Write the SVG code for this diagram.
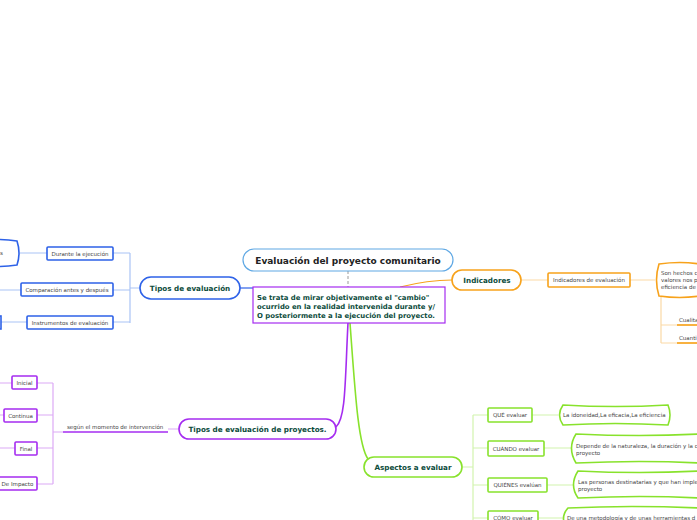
<svg xmlns="http://www.w3.org/2000/svg" width="697" height="520" viewBox="0 0 697 520">
<style>
text{font-family:"DejaVu Sans","Verdana",sans-serif}
.main{font-size:9px;font-weight:bold;fill:#222;text-anchor:middle}
.mid{font-size:7.2px;font-weight:bold;fill:#0b4b3b;text-anchor:middle}
.desc{font-size:6.9px;font-weight:bold;fill:#0b4b3b}
.sm{font-size:5.5px;fill:#444}
.smc{font-size:5.5px;fill:#444;text-anchor:middle}
.bl{fill:#fff;stroke:#2e62e8;stroke-width:1.6}
.pu{fill:#fff;stroke:#a52cf0;stroke-width:1.6}
.or{fill:#fff;stroke:#f7a21b;stroke-width:1.6}
.gr{fill:#fff;stroke:#88e22c;stroke-width:1.6}
.lbl{fill:none;stroke:#aac4f6;stroke-width:1.2}
.lpu{fill:none;stroke:#dcaaf6;stroke-width:1.2}
.lor{fill:none;stroke:#fbd9a6;stroke-width:1.2}
.lgr{fill:none;stroke:#d2f3ae;stroke-width:1.2}
</style>
<rect width="697" height="520" fill="#fff"/>
<g id="connectors">
  <line x1="348" y1="271" x2="348" y2="287" stroke="#999" stroke-width="1" stroke-dasharray="3,2"/>
  <line x1="240" y1="288" x2="253" y2="288" stroke="#2e62e8" stroke-width="1.2"/>
  <path d="M400,287 C420,282 435,280 452,280" fill="none" stroke="#f7a21b" stroke-width="1.2"/>
  <path d="M348,323 C345,380 346,418 336,427" fill="none" stroke="#a52cf0" stroke-width="1.6"/>
  <path d="M350,323 C355,390 358,445 368,459" fill="none" stroke="#88e22c" stroke-width="1.6"/>
  <path class="lbl" d="M140,288 H130 M130,253 V323 M113,253 H130 M113,290 H130 M113,322 H130 M47,253 H20 M21,290 H0 M27,322 H1"/>
  <path class="lpu" d="M179,429 H168 M63,432 H53 M53,383 V484 M37,383 H53 M37,415 H53 M37,448 H53 M37,484 H53 M12,383 H0 M4,415 H0 M15,448 H0"/>
  <line x1="63" y1="432" x2="168" y2="432" stroke="#a52cf0" stroke-width="1.6"/>
  <path class="lor" d="M521,280 H548 M630,280 H655 M661,297 V343 M661,325 H697 M661,343 H697"/>
  <line x1="677" y1="325" x2="697" y2="325" stroke="#f7a21b" stroke-width="1.6"/>
  <line x1="677" y1="343" x2="697" y2="343" stroke="#f7a21b" stroke-width="1.6"/>
  <path class="lgr" d="M462,467 H473 M473,415 V520 M473,415 H488 M473,448 H488 M473,485 H488 M473,518 H488 M532,415 H558 M544,448 H571 M547,485 H573 M538,518 H563"/>
</g>
<g id="title">
  <rect x="243" y="249" width="210" height="22" rx="11" fill="#fff" stroke="#5fa8e4" stroke-width="1.2"/>
  <text class="main" x="348" y="263.5">Evaluación del proyecto comunitario</text>
</g>
<g id="descripcion">
  <rect x="253" y="287" width="192" height="36" fill="#fff" stroke="#a52cf0" stroke-width="1.2"/>
  <text class="desc" x="257" y="299.5">Se trata de mirar objetivamente el "cambio"</text>
  <text class="desc" x="257" y="308.5">ocurrido en la realidad intervenida durante y/</text>
  <text class="desc" x="257" y="317.5">O posteriormente a la ejecución del proyecto.</text>
</g>
<g id="tipos-evaluacion">
  <rect x="140" y="277" width="100" height="22" rx="11" class="bl" stroke-width="1.2"/>
  <text class="mid" x="190" y="291">Tipos de evaluación</text>
</g>
<g id="durante">
  <rect x="47" y="247" width="66" height="13" rx="1" class="bl"/>
  <text class="smc" x="80" y="255.5">Durante la ejecución</text>
</g>
<g id="durante-hijo">
  <path d="M-20,241 Q0,238 17,241 Q21,253 17,265 Q0,268 -20,265 Z" class="bl" stroke-width="1.2"/>
  <text class="sm" x="0" y="254.5">s</text>
</g>
<g id="comparacion">
  <rect x="21" y="283" width="92" height="13" rx="1" class="bl"/>
  <text class="smc" x="67" y="291.5">Comparación antes y después</text>
</g>
<g id="instrumentos">
  <rect x="27" y="316" width="86" height="13" rx="1" class="bl"/>
  <text class="smc" x="70" y="324.5">Instrumentos de evaluación</text>
</g>
<g id="instrumentos-hijo">
  <rect x="-40" y="316" width="41" height="13" class="bl"/>
</g>
<g id="indicadores">
  <rect x="452" y="270" width="69" height="20" rx="10" class="or" stroke-width="1.2"/>
  <text class="mid" x="487" y="283">Indicadores</text>
</g>
<g id="indicadores-evaluacion">
  <rect x="548" y="273" width="82" height="14" rx="1" class="or"/>
  <text class="smc" x="589" y="282">Indicadores de evaluación</text>
</g>
<g id="son-hechos">
  <path d="M659,264 Q680,261 700,264 L700,296 Q680,299 659,296 Q654,280 659,264 Z" class="or" stroke-width="1.2"/>
  <text class="sm" x="661" y="274.5">Son hechos c</text>
  <text class="sm" x="661" y="281.5">valores nos p</text>
  <text class="sm" x="661" y="288.5">eficiencia de</text>
</g>
<g id="cualitativos">
  <text class="sm" x="679" y="322">Cualita</text>
</g>
<g id="cuantitativos">
  <text class="sm" x="679" y="340">Cuanti</text>
</g>
<g id="tipos-proyectos">
  <rect x="179" y="419" width="157" height="20" rx="10" class="pu" stroke-width="1.2"/>
  <text class="mid" x="257.5" y="432">Tipos de evaluación de proyectos.</text>
</g>
<g id="segun-momento">
  <text class="sm" x="67" y="429">según el momento de intervención</text>
</g>
<g id="inicial">
  <rect x="12" y="376" width="25" height="13" rx="1" class="pu"/>
  <text class="smc" x="24.5" y="384.5">Inicial</text>
</g>
<g id="continua">
  <rect x="4" y="409" width="33" height="13" rx="1" class="pu"/>
  <text class="smc" x="20.5" y="417.5">Continua</text>
</g>
<g id="final">
  <rect x="15" y="442" width="22" height="13" rx="1" class="pu"/>
  <text class="smc" x="26" y="450.5">Final</text>
</g>
<g id="impacto">
  <rect x="-2" y="477" width="39" height="13" rx="1" class="pu"/>
  <text class="smc" x="17.5" y="485.5">De Impacto</text>
</g>
<g id="aspectos">
  <rect x="364" y="457" width="98" height="20" rx="10" class="gr" stroke-width="1.2"/>
  <text class="mid" x="413" y="470">Aspectos a evaluar</text>
</g>
<g id="que">
  <rect x="488" y="408" width="44" height="14" rx="1" class="gr"/>
  <text class="smc" x="510" y="417">QUÉ evaluar</text>
</g>
<g id="que-hijo">
  <path d="M563,405 Q615,408 668,405 Q672,415 668,425 Q615,422 563,425 Q556,415 563,405 Z" class="gr" stroke-width="1.2"/>
  <text class="sm" x="563" y="417">La idoneidad,La eficacia,La eficiencia</text>
</g>
<g id="cuando">
  <rect x="488" y="441" width="56" height="15" rx="1" class="gr"/>
  <text class="smc" x="516" y="450.5">CUÁNDO evaluar</text>
</g>
<g id="cuando-hijo">
  <path d="M576,434 Q640,437 700,434 L700,463 Q640,460 576,463 Q567,448 576,434 Z" class="gr" stroke-width="1.2"/>
  <text class="sm" x="576" y="447.5">Depende de la naturaleza, la duración y la c</text>
  <text class="sm" x="576" y="454.5">proyecto</text>
</g>
<g id="quienes">
  <rect x="488" y="478" width="59" height="14" rx="1" class="gr"/>
  <text class="smc" x="517.5" y="487">QUIÉNES evalúan</text>
</g>
<g id="quienes-hijo">
  <path d="M578,471 Q640,474 700,471 L700,498 Q640,495 578,498 Q569,485 578,471 Z" class="gr" stroke-width="1.2"/>
  <text class="sm" x="578" y="484">Las personas destinatarias y que han imple</text>
  <text class="sm" x="578" y="491">proyecto</text>
</g>
<g id="como">
  <rect x="488" y="511" width="50" height="14" rx="1" class="gr"/>
  <text class="smc" x="513" y="520">CÓMO evaluar</text>
</g>
<g id="como-hijo">
  <path d="M568,508 Q630,505 700,508 L700,530 L568,530 Q559,518 568,508 Z" class="gr" stroke-width="1.2"/>
  <text class="sm" x="567" y="520">De una metodología y de unas herramientas d</text>
</g>
</svg>
